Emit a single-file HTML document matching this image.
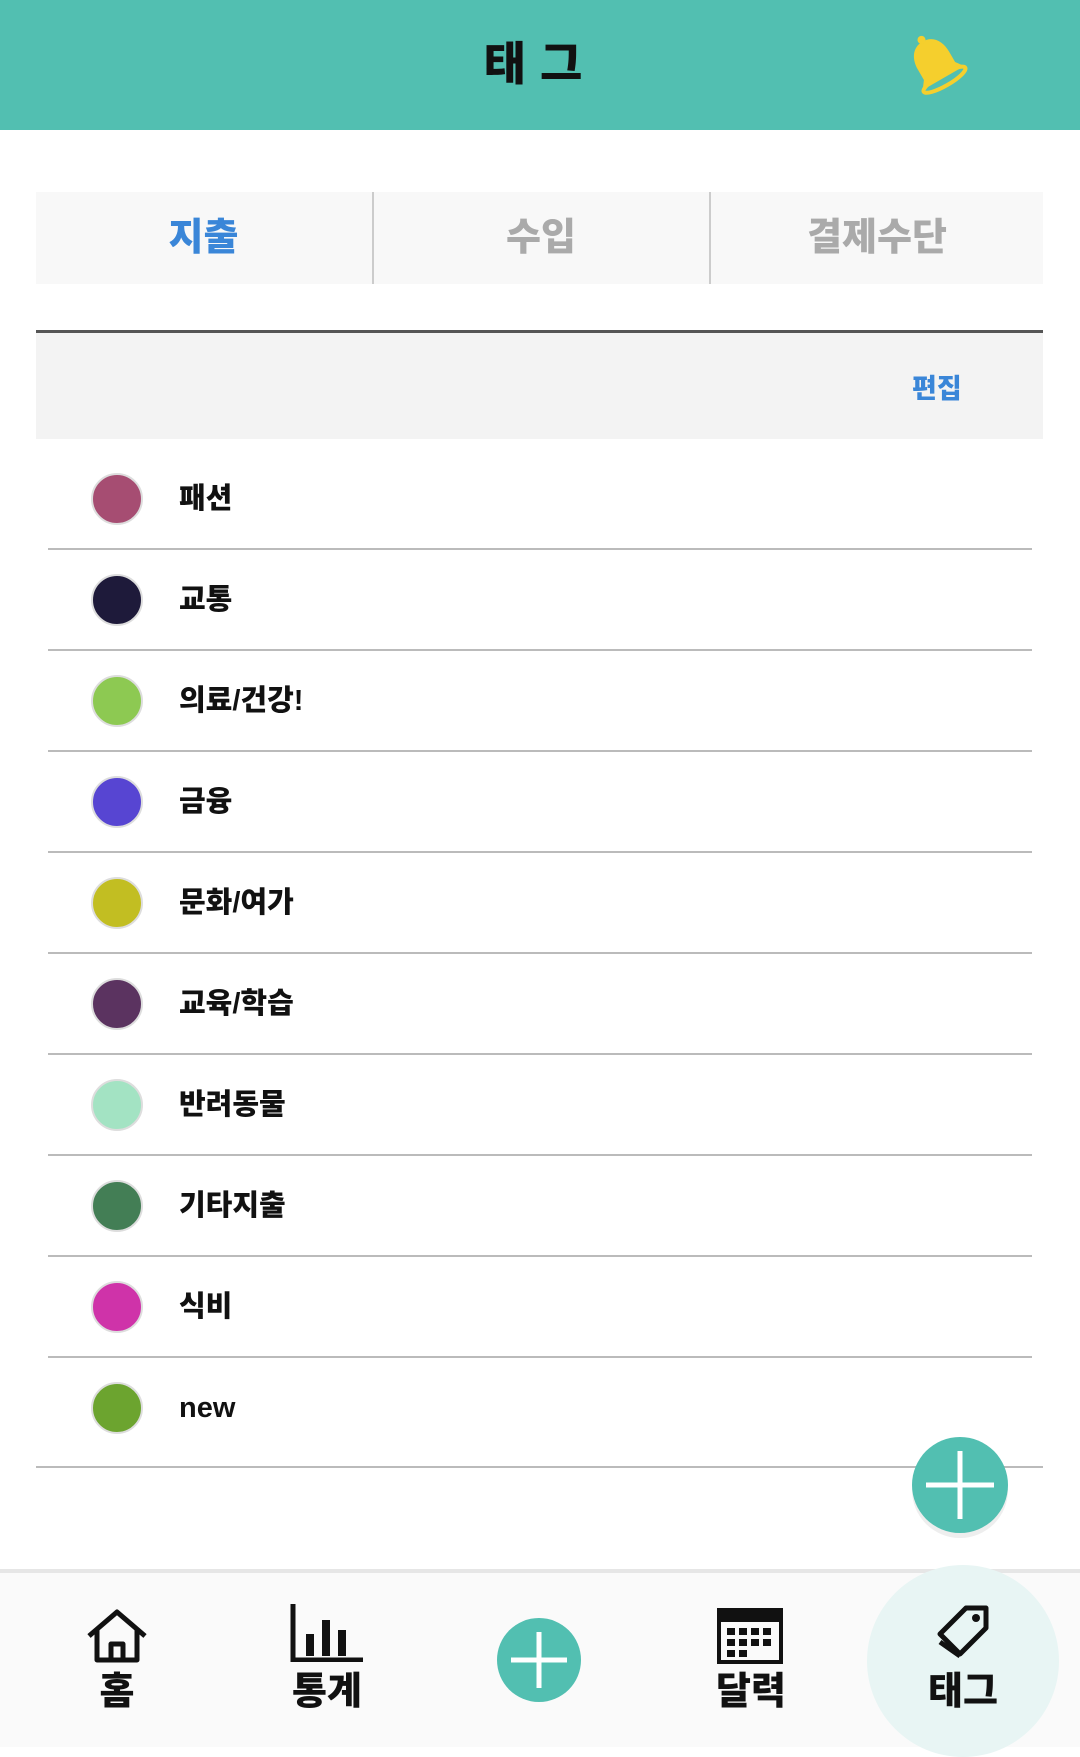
<!DOCTYPE html>
<html><head><meta charset="utf-8"><style>
*{margin:0;padding:0;box-sizing:border-box}
body{width:1080px;height:1747px;background:#fff;font-family:"Liberation Sans","Noto Sans CJK KR",sans-serif;position:relative;overflow:hidden}
.abs{position:absolute}
.header{left:0;top:0;width:1080px;height:130px;background:#52bfb1}
.title{left:0;width:1080px;top:28px;text-align:center;font-size:46px;font-weight:900;letter-spacing:14px;color:#111}
.tabs{left:36px;top:192px;width:1007px;height:92px;background:#f8f8f8}
.tab{top:0;height:92px;line-height:92px;text-align:center;font-size:38px;font-weight:900;color:#aaa}
.div{top:0;width:2px;height:92px;background:#ccc}
.band{left:36px;top:330px;width:1007px;height:109px;background:#f3f3f3;border-top:3px solid #555}
.row{left:48px;width:984px;height:101px;border-bottom:2px solid #bbb}
.dot{left:43px;width:52px;height:52px;border-radius:50%;top:24px;border:2px solid #ddd}
.lbl{left:131px;top:0;line-height:100px;font-size:29px;font-weight:900;color:#111}
.nav{left:0;top:1569px;width:1080px;height:178px;background:#fafafa;border-top:4px solid #e6e6e6}
.nl{font-size:38px;font-weight:900;color:#111;text-align:center;width:120px}
</style></head><body>
<div class="abs header"></div>
<div class="abs title">태그</div>
<svg class="abs" style="left:900px;top:30px" width="72" height="70" viewBox="0 0 72 70">
<g transform="rotate(-30 36 35)"><path d="M36 8c-12 0-18 10-18 22v12l-6 8h48l-6-8V30C54 18 48 8 36 8z" fill="#f5cf2d"/><ellipse cx="36" cy="52" rx="24" ry="6" fill="none" stroke="#f5cf2d" stroke-width="4"/><circle cx="36" cy="6" r="4" fill="#f5cf2d"/></g></svg>
<div class="abs tabs">
<div class="abs tab" style="left:0;width:335px;color:#3a86d8">지출</div>
<div class="abs div" style="left:336px"></div>
<div class="abs tab" style="left:338px;width:334px">수입</div>
<div class="abs div" style="left:673px"></div>
<div class="abs tab" style="left:675px;width:332px">결제수단</div>
</div>
<div class="abs band">
<div class="abs" style="left:876px;top:34px;font-size:27px;font-weight:900;color:#3a86d8">편집</div></div>
<div id="list"></div>
<div class="abs" style="left:36px;top:1466px;width:1007px;height:2px;background:#bbb"></div>
<svg class="abs" style="left:908px;top:1433px" width="106" height="110">
<circle cx="52" cy="57" r="48" fill="#eee"/><circle cx="52" cy="52" r="48" fill="#52bfb1"/>
<path d="M52 18v68M18 52h68" stroke="#fff" stroke-width="5"/></svg>
<div class="abs nav"></div>
<div class="abs" style="left:867px;top:1565px;width:192px;height:192px;border-radius:50%;background:#e8f5f4"></div>
<svg class="abs" style="left:85px;top:1608px" width="64" height="56"><path d="M4 28L32 4l28 24M12 22v30h40V22M26 52V36h12v16" fill="none" stroke="#111" stroke-width="5" stroke-linejoin="round"/></svg>
<div class="abs nl" style="left:57px;top:1660px">홈</div>
<svg class="abs" style="left:290px;top:1604px" width="74" height="58"><path d="M3 0v56h70" fill="none" stroke="#111" stroke-width="5"/><rect x="16" y="30" width="8" height="22" fill="#111"/><rect x="32" y="16" width="8" height="36" fill="#111"/><rect x="48" y="26" width="8" height="26" fill="#111"/></svg>
<div class="abs nl" style="left:267px;top:1660px">통계</div>
<svg class="abs" style="left:497px;top:1618px" width="84" height="84"><circle cx="42" cy="42" r="42" fill="#52bfb1"/><path d="M42 14v56M14 42h56" stroke="#fff" stroke-width="5"/></svg>
<svg class="abs" style="left:717px;top:1604px" width="66" height="60"><rect x="2" y="6" width="62" height="52" fill="none" stroke="#111" stroke-width="4"/><rect x="2" y="6" width="62" height="12" fill="#111"/><g fill="#111"><rect x="10" y="24" width="8" height="7"/><rect x="22" y="24" width="8" height="7"/><rect x="34" y="24" width="8" height="7"/><rect x="46" y="24" width="8" height="7"/><rect x="10" y="35" width="8" height="7"/><rect x="22" y="35" width="8" height="7"/><rect x="34" y="35" width="8" height="7"/><rect x="46" y="35" width="8" height="7"/><rect x="10" y="46" width="8" height="7"/><rect x="22" y="46" width="8" height="7"/></g></svg>
<div class="abs nl" style="left:691px;top:1660px">달력</div>
<svg class="abs" style="left:936px;top:1604px" width="56" height="54"><path d="M30 4h20v20L24 50 4 30z" fill="none" stroke="#111" stroke-width="5" stroke-linejoin="round"/><circle cx="40" cy="14" r="4" fill="#111"/><path d="M4 38l20 14" stroke="#111" stroke-width="5"/></svg>
<div class="abs nl" style="left:903px;top:1660px">태그</div>
<script>
const names=["패션","교통","의료/건강!","금융","문화/여가","교육/학습","반려동물","기타지출","식비","new"];
const colors=["#a64d72","#1e1a3a","#8dc952","#5745d2","#c2be22","#5b3360","#a3e3c3","#437e55","#cf33a9","#6ca42f"];
const list=document.getElementById('list');
names.forEach((n,i)=>{
 const r=document.createElement('div');r.className='abs row';r.style.top=(449+i*101)+'px';
 if(i===names.length-1)r.style.borderBottom='none';
 
 
 const d=document.createElement('div');d.className='abs dot';d.style.background=colors[i];
 
 
 const l=document.createElement('div');l.className='abs lbl';l.textContent=n;
 
 
 r.appendChild(d);r.appendChild(l);list.appendChild(r);
});
</script>
</body></html>
